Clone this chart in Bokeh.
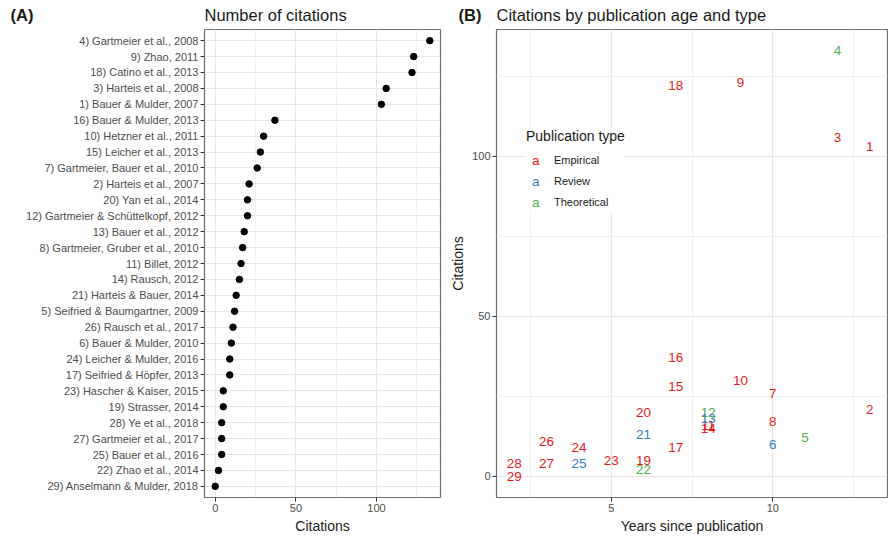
import numpy as np
from bokeh.plotting import figure
from bokeh.layouts import row, column
from bokeh.models import (ColumnDataSource, FactorRange, Range1d, FixedTicker,
                          Label, Legend, LegendItem)
from bokeh.core.properties import value
from bokeh.embed import file_html
from bokeh.resources import INLINE

# ---------------- data (in the order of panel A, top to bottom) ----------------
study_id = [4, 9, 18, 3, 1, 16, 10, 15, 7, 2, 20, 12, 13, 8, 11, 14, 21, 5, 26, 6,
            24, 17, 23, 19, 28, 27, 25, 22, 29]
study_label = ["4) Gartmeier et al., 2008", "9) Zhao, 2011", "18) Catino et al., 2013",
               "3) Harteis et al., 2008", "1) Bauer & Mulder, 2007", "16) Bauer & Mulder, 2013",
               "10) Hetzner et al., 2011", "15) Leicher et al., 2013",
               "7) Gartmeier, Bauer et al., 2010", "2) Harteis et al., 2007",
               "20) Yan et al., 2014", "12) Gartmeier & Schüttelkopf, 2012",
               "13) Bauer et al., 2012", "8) Gartmeier, Gruber et al., 2010",
               "11) Billet, 2012", "14) Rausch, 2012", "21) Harteis & Bauer, 2014",
               "5) Seifried & Baumgartner, 2009", "26) Rausch et al., 2017",
               "6) Bauer & Mulder, 2010", "24) Leicher & Mulder, 2016",
               "17) Seifried & Höpfer, 2013", "23) Hascher & Kaiser, 2015",
               "19) Strasser, 2014", "28) Ye et al., 2018", "27) Gartmeier et al., 2017",
               "25) Bauer et al., 2016", "22) Zhao et al., 2014",
               "29) Anselmann & Mulder, 2018"]
citations = [133, 123, 122, 106, 103, 37, 30, 28, 26, 21, 20, 20, 18, 17, 16, 15, 13, 12,
             11, 10, 9, 9, 5, 5, 4, 4, 4, 2, 0]
years_since = [12, 9, 7, 12, 13, 7, 9, 7, 10, 13, 6, 8, 8, 10, 8, 8, 6, 11, 3, 10, 4, 7,
               5, 6, 2, 3, 4, 6, 2]
pub_type = ["Theoretical", "Empirical", "Empirical", "Empirical", "Empirical", "Empirical",
            "Empirical", "Empirical", "Empirical", "Empirical", "Empirical", "Theoretical",
            "Review", "Empirical", "Empirical", "Empirical", "Review", "Theoretical",
            "Empirical", "Review", "Empirical", "Empirical", "Empirical", "Empirical",
            "Empirical", "Empirical", "Review", "Theoretical", "Empirical"]

type_names = ["Empirical", "Review", "Theoretical"]
type_colors = ["#E41A1C", "#377EB8", "#4DAF4A"]

cit_ticks = [0, 50, 100]
cit_minor = [25, 75, 125]
year_ticks = [5, 10]
year_minor = [2.5, 7.5, 12.5]

panel_tags = ["(A)", "(B)"]
panel_titles = ["Number of citations", "Citations by publication age and type"]

FONT = "Liberation Sans"
GRID = "#E6E6E6"
MINOR = "#F0F0F0"
BORDER = "#6E6E6E"
TICKTXT = "#4D4D4D"

W1, W2 = 444, 444
HH = 28           # header strip height
H = 537 - HH      # plot height
BL1, BL2 = 204, 52


def pad_range(vals, frac=0.05):
    lo, hi = min(vals), max(vals)
    d = (hi - lo) * frac
    return Range1d(lo - d, hi + d)


def style(p):
    p.outline_line_color = BORDER
    p.outline_line_width = 1.2
    p.background_fill_color = "white"
    p.border_fill_color = "white"
    for ax in p.axis:
        ax.axis_line_color = None
        ax.major_tick_line_color = "#333333"
        ax.major_tick_out = 4
        ax.major_tick_in = 0
        ax.minor_tick_line_color = None
        ax.major_label_text_font = FONT
        ax.major_label_text_font_size = "11px"
        ax.major_label_text_color = TICKTXT
        ax.major_label_standoff = 2
        ax.axis_label_text_font = FONT
        ax.axis_label_text_font_size = "14px"
        ax.axis_label_text_font_style = "normal"
        ax.axis_label_text_color = "#1A1A1A"
        ax.axis_label_standoff = 3


# ---------------- header strip with panel tags and titles ----------------
hdr = figure(width=W1 + W2, height=HH, min_border=0, toolbar_location=None,
             output_backend="svg", x_range=Range1d(0, W1 + W2), y_range=Range1d(0, HH))
hdr.axis.visible = False
hdr.grid.visible = False
hdr.outline_line_color = None
for tag, ttl, x0, bl in zip(panel_tags, panel_titles, [0, W1], [BL1, BL2]):
    hdr.add_layout(Label(x=x0 + (10 if x0 == 0 else 14), y=HH - 14, x_units="screen",
                         y_units="screen", text=tag, text_font=FONT, text_font_size="16.5px",
                         text_font_style="bold", text_color="#1A1A1A",
                         text_baseline="middle"))
    hdr.add_layout(Label(x=x0 + bl, y=HH - 14, x_units="screen", y_units="screen", text=ttl,
                         text_font=FONT, text_font_size="16.5px", text_color="#1A1A1A",
                         text_baseline="middle"))

# ---------------- panel A ----------------
factors = list(reversed(study_label))
p1 = figure(width=W1, height=H, min_border_left=BL1, min_border_right=4,
            min_border_top=1, min_border_bottom=40,
            y_range=FactorRange(factors=factors, range_padding=0.2,
                                range_padding_units="absolute"),
            x_range=pad_range(citations), toolbar_location=None, output_backend="svg")
src1 = ColumnDataSource(dict(label=study_label, cit=citations))
p1.scatter(x="cit", y="label", source=src1, size=6.5, color="black")
p1.xaxis.ticker = FixedTicker(ticks=cit_ticks, minor_ticks=cit_minor)
p1.xaxis.axis_label = "Citations"
p1.xgrid.grid_line_color = GRID
p1.xgrid.minor_grid_line_color = MINOR
p1.ygrid.grid_line_color = GRID
style(p1)

# ---------------- panel B ----------------
order = np.argsort(study_id, kind="stable")
cmap = dict(zip(type_names, type_colors))
src2 = ColumnDataSource(dict(
    x=[years_since[i] for i in order],
    y=[citations[i] for i in order],
    t=[str(study_id[i]) for i in order],
    c=[cmap[pub_type[i]] for i in order],
))
p2 = figure(width=W2, height=H, min_border_left=BL2, min_border_right=1,
            min_border_top=1, min_border_bottom=40,
            x_range=pad_range(years_since), y_range=pad_range(citations),
            toolbar_location=None, output_backend="svg")
p2.text(x="x", y="y", text="t", source=src2, text_color="c", text_font=value(FONT),
        text_font_size="13.5px", text_align="center", text_baseline="middle")
p2.xaxis.ticker = FixedTicker(ticks=year_ticks, minor_ticks=year_minor)
p2.yaxis.ticker = FixedTicker(ticks=cit_ticks, minor_ticks=cit_minor)
p2.xaxis.axis_label = "Years since publication"
p2.yaxis.axis_label = "Citations"
for g in (p2.xgrid, p2.ygrid):
    g.grid_line_color = GRID
    g.minor_grid_line_color = MINOR
style(p2)

# legend: white box with title and type names
GW, GH, SP = 20, 20, 1
dummies = []
for name, col in zip(type_names, type_colors):
    dummies.append(p2.text(x=[np.nan], y=[np.nan], text=["a"], text_color=col,
                           text_font=value(FONT), text_font_size="13.5px"))
legend = Legend(items=[LegendItem(label=nm, renderers=[r]) for nm, r in zip(type_names, dummies)],
                location=(30, 285), title="Publication type",
                title_text_font=FONT, title_text_font_size="14px", title_text_color="#1A1A1A",
                title_text_font_style="normal",
                title_standoff=6, label_text_font=FONT, label_text_font_size="11px",
                label_text_color="#1A1A1A", glyph_width=GW, glyph_height=GH,
                label_height=GH, label_standoff=8, spacing=SP, padding=8, margin=0,
                border_line_color=None, background_fill_color="white",
                background_fill_alpha=1.0)
p2.add_layout(legend)
# legend keys: a coloured "a" per type, each as its own transparent one-item legend
n = len(type_names)
for i, (r, col) in enumerate(zip(dummies, type_colors)):
    key = Legend(items=[LegendItem(label="a", renderers=[r])],
                 location=(35, 285 + (n - 1 - i) * (GH + SP)),
                 label_text_font=FONT, label_text_font_size="13.5px", label_text_color=col,
                 glyph_width=1, glyph_height=GH, label_height=GH, label_standoff=0,
                 padding=0, margin=0, spacing=0, border_line_color=None,
                 background_fill_alpha=0.0)
    p2.add_layout(key)

layout = column(hdr, row(p1, p2))
open("out.html", "w").write(file_html(layout, INLINE))
